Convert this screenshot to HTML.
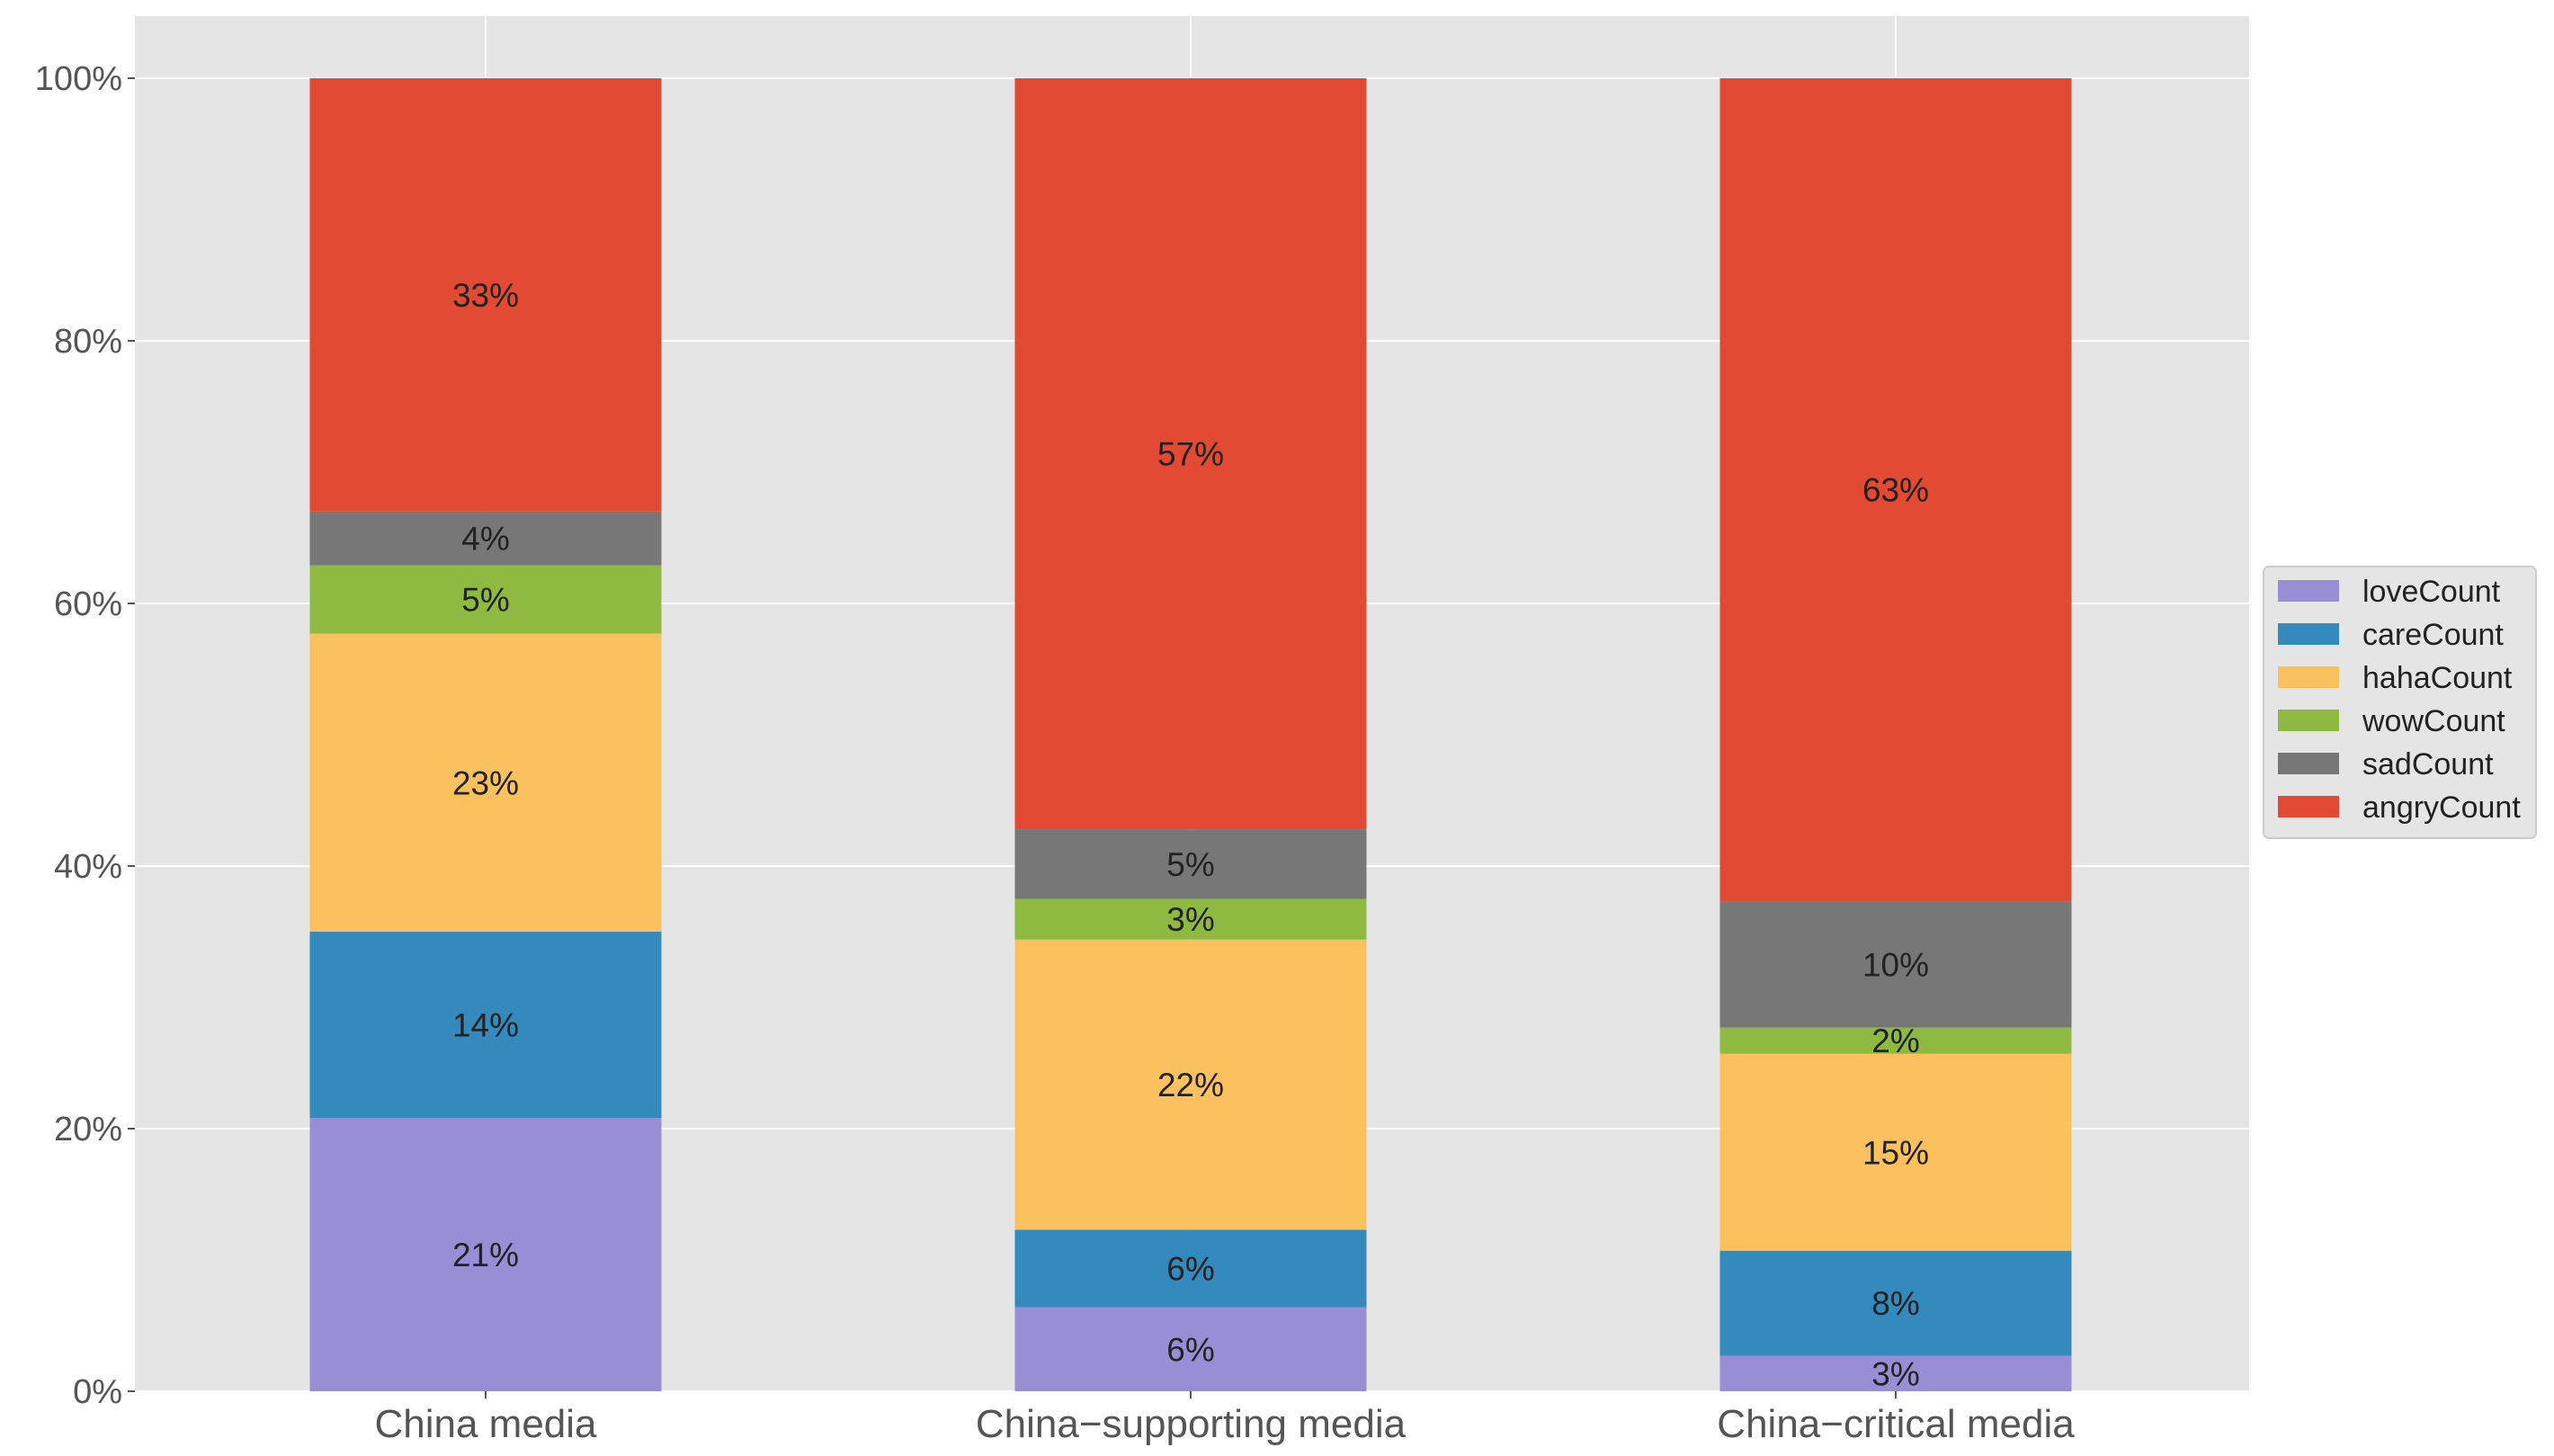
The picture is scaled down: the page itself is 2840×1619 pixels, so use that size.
<!DOCTYPE html>
<html><head><meta charset="utf-8"><style>
html,body{margin:0;padding:0;background:#fff;}
svg{display:block;font-family:"Liberation Sans","Noto Sans CJK KR",sans-serif;}
</style></head><body>
<svg id="chart" width="2840" height="1619" viewBox="0 0 2840 1619" xmlns="http://www.w3.org/2000/svg"></svg>
<script>
const categories = ["China media", "China\u2212supporting media", "China\u2212critical media"];
const seriesNames = ["loveCount", "careCount", "hahaCount", "wowCount", "sadCount", "angryCount"];
const loveCount = [20.8, 6.4, 2.7];
const careCount = [14.2, 5.9, 8.0];
const hahaCount = [22.7, 22.1, 15.0];
const wowCount = [5.2, 3.1, 2.0];
const sadCount = [4.1, 5.3, 9.6];
const angryCount = [33.0, 57.2, 62.7];
const yTicks = [0, 20, 40, 60, 80, 100];
const yTickLabels = ["0%", "20%", "40%", "60%", "80%", "100%"];

const series = [loveCount, careCount, hahaCount, wowCount, sadCount, angryCount];
const colors = ["#988ED5", "#348ABD", "#FBC15E", "#8EBA42", "#777777", "#E24A33"];
const NS = "http://www.w3.org/2000/svg";
const svg = document.getElementById("chart");
const plot = {left:150, right:2501, top:18, bottom:1547};
const y0 = 1547, y100 = 87;
function yScale(v){ return y0 - (v/100)*(y0 - y100); }
const xCenter0 = 540, xStep = 784, barW = 391;
function xScale(i){ return xCenter0 + i*xStep; }
function mk(tag, attrs, parent){
  const e = document.createElementNS(NS, tag);
  for (const k in attrs) e.setAttribute(k, attrs[k]);
  (parent||svg).appendChild(e);
  return e;
}
const bg = mk("rect",{x:plot.left,y:plot.top,width:plot.right-plot.left,height:plot.bottom-plot.top,fill:"#E5E5E5"});


yTicks.forEach((t,i)=>{
  const y = yScale(t);
  const g = mk("line",{x1:plot.left,x2:plot.right,y1:y,y2:y,stroke:"#fff","stroke-width":2});
  
  
  const tk = mk("line",{x1:plot.left-8,x2:plot.left,y1:y,y2:y,stroke:"#555","stroke-width":2});
  
  
  const tx = mk("text",{x:plot.left-14,y:y+13,"text-anchor":"end","font-size":38,fill:"#555"});
  tx.textContent = yTickLabels[i];
  
  
});
categories.forEach((c,i)=>{
  const x = xScale(i);
  const g = mk("line",{x1:x,x2:x,y1:plot.top,y2:plot.bottom,stroke:"#fff","stroke-width":2});
  
  
});
categories.forEach((c,i)=>{
  let cum = 0;
  series.forEach((s,j)=>{
    const v = s[i];
    const yt = yScale(cum+v), yb = yScale(cum);
    const r = mk("rect",{x:xScale(i)-barW/2,y:yt,width:barW,height:yb-yt,fill:colors[j]});
    
    
    const t = mk("text",{x:xScale(i),y:(yt+yb)/2+13,"text-anchor":"middle","font-size":37,fill:"#222"});
    t.textContent = Math.round(v)+"%";
    
    
    cum += v;
  });
});
categories.forEach((c,i)=>{
  const x = xScale(i);
  const tk = mk("line",{x1:x,x2:x,y1:plot.bottom,y2:plot.bottom+8,stroke:"#555","stroke-width":2});
  
  
  const t = mk("text",{x:x,y:1598,"text-anchor":"middle","font-size":44,fill:"#555"});
  t.textContent = c;
  
  
});
const lg = mk("g",{});


const lb = mk("rect",{x:2517,y:630,width:303,height:302,rx:6,fill:"#E5E5E5",stroke:"#cccccc","stroke-width":2},lg);


seriesNames.forEach((n,j)=>{
  const cy = 657 + j*48;
  const e = mk("g",{},lg);
  
  
  mk("rect",{x:2533,y:cy-12,width:68,height:24,fill:colors[j]},e);
  const t = mk("text",{x:2627,y:cy+12,"font-size":34,fill:"#222"},e);
  t.textContent = n;
});
</script>
</body></html>
